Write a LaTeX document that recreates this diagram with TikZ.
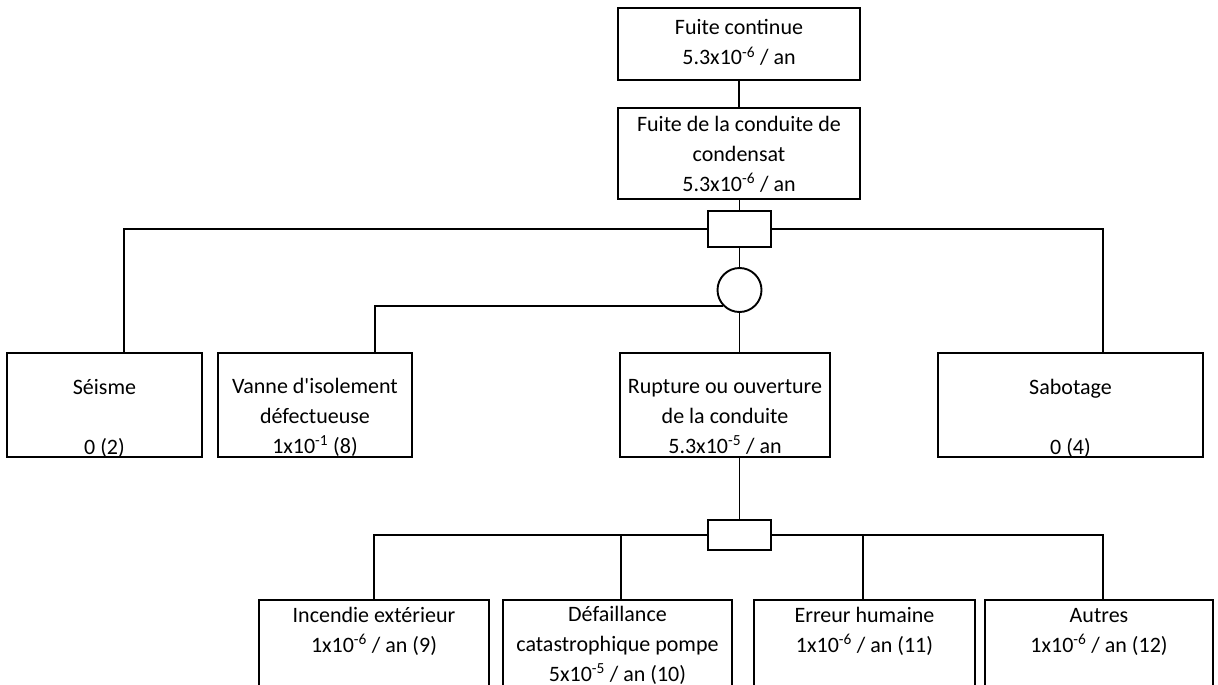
\documentclass[tikz,border=0pt]{standalone}
\usepackage{fontspec}
\setmainfont{Carlito}
\begin{document}
\begin{tikzpicture}[
    x=1pt, y=-1pt,
    every node/.style = {draw, line width=1.9pt, inner sep=0pt},
    evt/.style        = {rectangle, minimum height=104pt},
    txt/.style        = {draw=none, anchor=north, align=center, font=\fontsize{22}{30}\selectfont},
    andg/.style       = {rectangle, minimum width=63pt},
    org/.style        = {circle, minimum size=44pt},
    lnk/.style        = {line width=1.9pt}
    ]
      \useasboundingbox (0,0) rectangle (1218,685);
      \clip (0,0) rectangle (1218,685);
      % boxes ----------------------------------------------------
      \node[evt, minimum width=242pt, minimum height=72pt,
            label={[txt, yshift=-6pt]north:{\strut Fuite continue\\5.3x10\textsuperscript{-6} / an}}] (fuite) at (739,44) {};
      \node[evt, minimum width=242pt, minimum height=91pt,
            label={[txt, yshift=-2pt]north:{\strut Fuite de la conduite de\\condensat\\5.3x10\textsuperscript{-6} / an}}] (conduite) at (739,153.5) {};
      \node[evt, minimum width=195pt,
            label={[txt, yshift=-20pt]north:{\strut Séisme\\[30pt]0 (2)}}] (seisme) at (104.5,405) {};
      \node[evt, minimum width=194pt,
            label={[txt, yshift=-19pt]north:{\strut Vanne d\textquotesingle isolement\\défectueuse\\1x10\textsuperscript{-1} (8)}}] (vanne) at (315,405) {};
      \node[evt, minimum width=210pt,
            label={[txt, yshift=-19pt]north:{\strut Rupture ou ouverture\\de la conduite\\5.3x10\textsuperscript{-5} / an}}] (rupture) at (725,405) {};
      \node[evt, minimum width=265pt,
            label={[txt, yshift=-20pt]north:{\strut Sabotage\\[30pt]0 (4)}}] (sabotage) at (1070.5,405) {};
      \node[evt, minimum width=230pt, minimum height=100pt,
            label={[txt, yshift=-1pt]north:{\strut Incendie extérieur\\1x10\textsuperscript{-6} / an (9)}}] (incendie) at (374,650) {};
      \node[evt, minimum width=229pt, minimum height=100pt,
            label={[txt, yshift=0pt]north:{\strut Défaillance\\catastrophique pompe\\5x10\textsuperscript{-5} / an (10)}}] (defaillance) at (617.5,650) {};
      \node[evt, minimum width=221pt, minimum height=100pt,
            label={[txt, yshift=-1pt]north:{\strut Erreur humaine\\1x10\textsuperscript{-6} / an (11)}}] (erreur) at (864.5,650) {};
      \node[evt, minimum width=228pt, minimum height=100pt,
            label={[txt, yshift=-1pt]north:{\strut Autres\\1x10\textsuperscript{-6} / an (12)}}] (autres) at (1099,650) {};

      % gates ----------------------------------------------------
      \node[andg, minimum height=36pt] (gate1)  at (739.5,229) {};
      \node[org]                       (orgate) at (739.5,290) {};
      \node[andg, minimum height=30pt] (gate2)  at (739.5,535) {};

      % links ----------------------------------------------------
      \draw[lnk] (fuite) -- (conduite);
      \draw[lnk] (conduite.south -| gate1.north) -- (gate1.north);
      \draw[lnk] (gate1.west) -| ([xshift=19.5pt]seisme.north);
      \draw[lnk] (gate1.east) -| ([xshift=32.5pt]sabotage.north);
      \draw[lnk] (gate1) -- (orgate);
      \draw[lnk] (orgate.225) -| ([xshift=60pt]vanne.north);
      \draw[lnk] (orgate.south) -- (orgate.south |- rupture.north);
      \draw[lnk] (rupture.south -| gate2.north) -- (gate2.north);
      \draw[lnk] (gate2.west) -| (incendie.north);
      \draw[lnk] (gate2.east) -| ([xshift=4pt]autres.north);
      \draw[lnk] ([xshift=3.5pt]defaillance.north) -- ([xshift=3.5pt]defaillance.north |- gate2.west);
      \draw[lnk] ([xshift=-1.5pt]erreur.north) -- ([xshift=-1.5pt]erreur.north |- gate2.east);
    \end{tikzpicture}
\end{document}
